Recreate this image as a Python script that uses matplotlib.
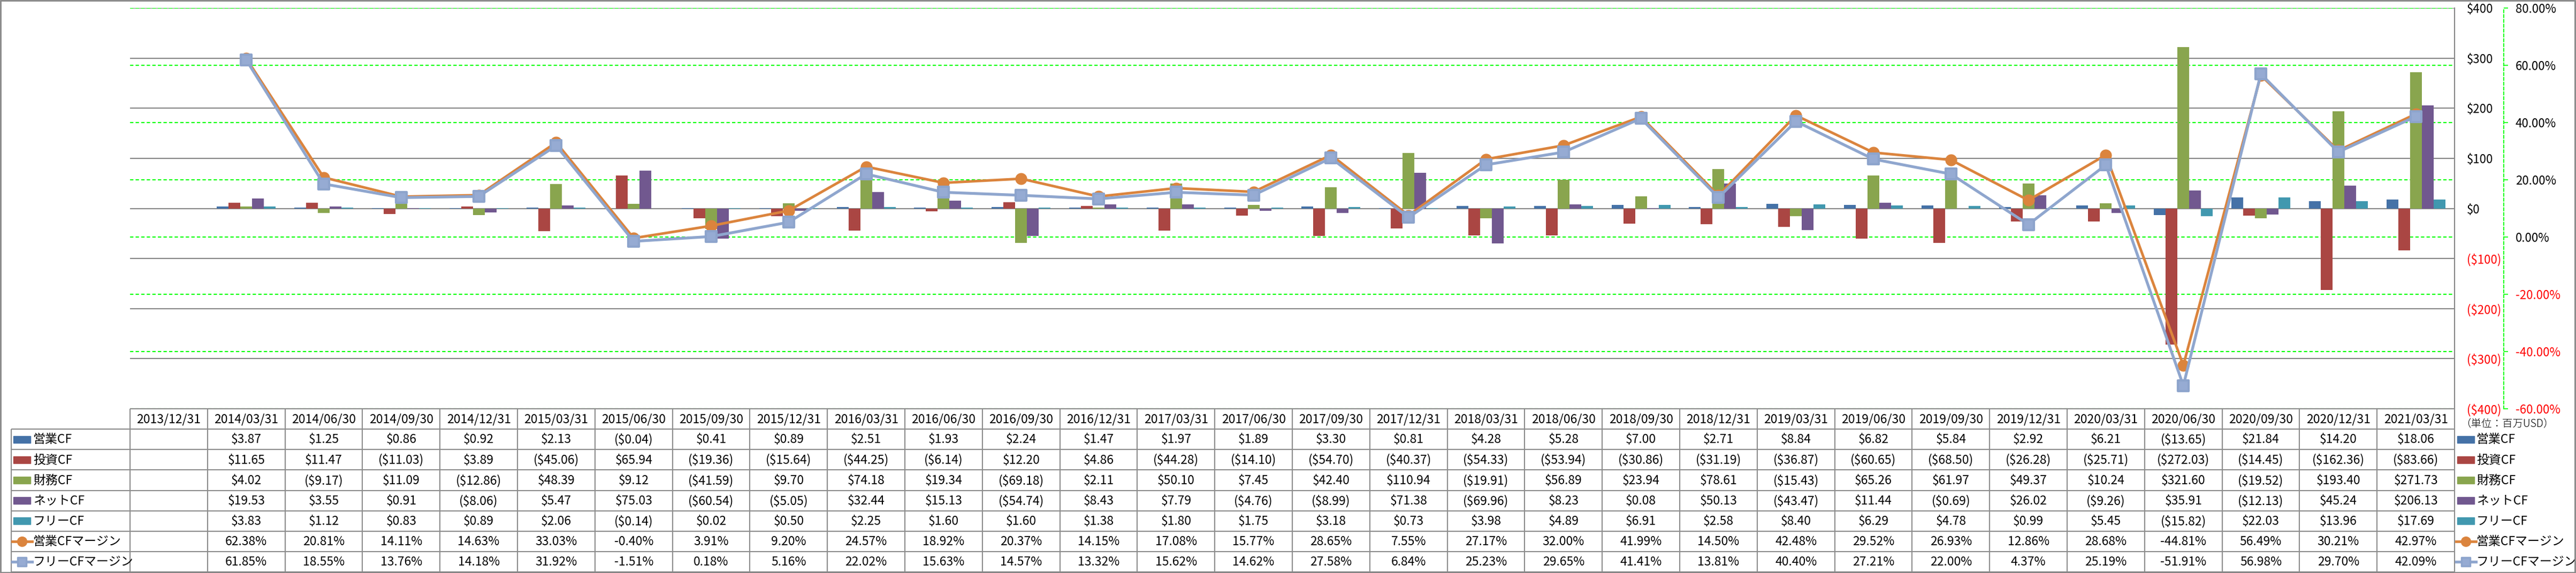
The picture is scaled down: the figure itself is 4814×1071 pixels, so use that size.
import numpy as np
import matplotlib.pyplot as plt
import matplotlib.transforms as mtransforms
from matplotlib.patches import Rectangle
from matplotlib.markers import MarkerStyle

plt.rcParams['font.family'] = ['Noto Sans CJK JP', 'DejaVu Sans']

nan = np.nan

dates = ['2013/12/31', '2014/03/31', '2014/06/30', '2014/09/30', '2014/12/31',
         '2015/03/31', '2015/06/30', '2015/09/30', '2015/12/31', '2016/03/31',
         '2016/06/30', '2016/09/30', '2016/12/31', '2017/03/31', '2017/06/30',
         '2017/09/30', '2017/12/31', '2018/03/31', '2018/06/30', '2018/09/30',
         '2018/12/31', '2019/03/31', '2019/06/30', '2019/09/30', '2019/12/31',
         '2020/03/31', '2020/06/30', '2020/09/30', '2020/12/31', '2021/03/31']

# 単位: 百万USD
op_cf = [nan, 3.87, 1.25, 0.86, 0.92, 2.13, -0.04, 0.41, 0.89, 2.51,
         1.93, 2.24, 1.47, 1.97, 1.89, 3.30, 0.81, 4.28, 5.28, 7.00,
         2.71, 8.84, 6.82, 5.84, 2.92, 6.21, -13.65, 21.84, 14.20, 18.06]
inv_cf = [nan, 11.65, 11.47, -11.03, 3.89, -45.06, 65.94, -19.36, -15.64, -44.25,
          -6.14, 12.20, 4.86, -44.28, -14.10, -54.70, -40.37, -54.33, -53.94, -30.86,
          -31.19, -36.87, -60.65, -68.50, -26.28, -25.71, -272.03, -14.45, -162.36, -83.66]
fin_cf = [nan, 4.02, -9.17, 11.09, -12.86, 48.39, 9.12, -41.59, 9.70, 74.18,
          19.34, -69.18, 2.11, 50.10, 7.45, 42.40, 110.94, -19.91, 56.89, 23.94,
          78.61, -15.43, 65.26, 61.97, 49.37, 10.24, 321.60, -19.52, 193.40, 271.73]
net_cf = [nan, 19.53, 3.55, 0.91, -8.06, 5.47, 75.03, -60.54, -5.05, 32.44,
          15.13, -54.74, 8.43, 7.79, -4.76, -8.99, 71.38, -69.96, 8.23, 0.08,
          50.13, -43.47, 11.44, -0.69, 26.02, -9.26, 35.91, -12.13, 45.24, 206.13]
free_cf = [nan, 3.83, 1.12, 0.83, 0.89, 2.06, -0.14, 0.02, 0.50, 2.25,
           1.60, 1.60, 1.38, 1.80, 1.75, 3.18, 0.73, 3.98, 4.89, 6.91,
           2.58, 8.40, 6.29, 4.78, 0.99, 5.45, -15.82, 22.03, 13.96, 17.69]
# マージン (%)
op_margin = [nan, 62.38, 20.81, 14.11, 14.63, 33.03, -0.40, 3.91, 9.20, 24.57,
             18.92, 20.37, 14.15, 17.08, 15.77, 28.65, 7.55, 27.17, 32.00, 41.99,
             14.50, 42.48, 29.52, 26.93, 12.86, 28.68, -44.81, 56.49, 30.21, 42.97]
free_margin = [nan, 61.85, 18.55, 13.76, 14.18, 31.92, -1.51, 0.18, 5.16, 22.02,
               15.63, 14.57, 13.32, 15.62, 14.62, 27.58, 6.84, 25.23, 29.65, 41.41,
               13.81, 40.40, 27.21, 22.00, 4.37, 25.19, -51.91, 56.98, 29.70, 42.09]

bar_names = ['営業CF', '投資CF', '財務CF', 'ネットCF', 'フリーCF']
bar_colors = ['#4572A7', '#AA4643', '#89A54E', '#71588F', '#4198AF']
line_names = ['営業CFマージン', 'フリーCFマージン']
usd_ticks = list(range(-400, 401, 100))
pct_ticks = list(range(-60, 81, 20))

W, H = 4814, 1071
fig = plt.figure(figsize=(W / 100, H / 100), dpi=100)

PL, PR, PT, PB = 243, 4587, 15, 764
ax = fig.add_axes([PL / W, 1 - PB / H, (PR - PL) / W, (PB - PT) / H])
ax2 = ax.twinx()

n = len(dates)
x = np.arange(n)
bar_series = [op_cf, inv_cf, fin_cf, net_cf, free_cf]
w = 1 / 6.58
for k, (vals, c) in enumerate(zip(bar_series, bar_colors)):
    v = np.array(vals)
    ax.bar(x[1:] + (k - 2) * w, v[1:], width=w, color=c, zorder=2)

ax2.plot(x, op_margin, color='#DB843D', lw=3.5, marker='o', ms=15,
         mfc='#DB843D', mec='#DB843D', zorder=3)
sq = MarkerStyle('s', joinstyle='round')
ax2.plot(x, free_margin, color='#8FA6CE', lw=3.8, marker=sq, ms=14,
         mfc='#96ABD3', mec='#8DA4CC', mew=3, zorder=4)

ax.set_xlim(-0.5, n - 0.5)
ax.set_ylim(-400, 400)
ax2.set_ylim(-60, 80)
ax.set_xticks([])

# 主軸 ($)
ax.yaxis.tick_right()
ax.set_yticks(usd_ticks)
ax.set_yticklabels([f'${v}' if v >= 0 else f'(${-v})' for v in usd_ticks])
ax.tick_params(axis='y', length=0, pad=16.5, labelsize=16)
ax.grid(axis='y', color='#868686', lw=1.5)
ax.set_axisbelow(True)
for s in ['top', 'left', 'bottom']:
    ax.spines[s].set_visible(False)
ax.spines['right'].set_color('#868686')
ax.spines['right'].set_linewidth(1.5)

# 第2軸 (%)
for s in ['top', 'left', 'bottom']:
    ax2.spines[s].set_visible(False)
ax2.spines['right'].set_position(('outward', 66))
ax2.spines['right'].set_color('#00FF00')
ax2.spines['right'].set_linestyle((0, (3, 2)))
ax2.spines['right'].set_linewidth(1.3)
ax2.set_yticks(pct_ticks)
ax2.set_yticklabels([f'{v:.2f}%' for v in pct_ticks])
ax2.tick_params(axis='y', color='#00FF00', labelcolor='black', length=6,
                width=1.2, pad=10, labelsize=16)

# マイナスは赤
for a, ticks in [(ax, usd_ticks), (ax2, pct_ticks)]:
    for lbl, v in zip(a.get_yticklabels(), ticks):
        lbl.set_color('red' if v < 0 else 'black')

# 第2軸の目盛線 (棒の下に描く)
trans = mtransforms.blended_transform_factory(ax.transAxes, ax2.transData)
for v in pct_ticks:
    ax.plot([0, 1], [v, v], transform=trans, color='#00FF00', lw=1.5,
            ls=(0, (3, 2)), zorder=1)

# データテーブル
TL, TB = 21, 1069
colw = (PR - PL) / n
xleft = -0.5 - (PL - TL) / colw
tab = fig.add_axes([TL / W, 1 - TB / H, (PR - TL) / W, (TB - PB) / H])
tab.set_xlim(xleft, n - 0.5)
tab.set_ylim(8, 0)
tab.axis('off')

gc = '#8C8C8C'
tab.hlines(0, -0.5, n - 0.5, color=gc, lw=1.5, clip_on=False)
for r in range(1, 9):
    tab.hlines(r, xleft, n - 0.5, color=gc, lw=1.5, clip_on=False)
for j in range(n + 1):
    tab.vlines(j - 0.5, 0, 8, color=gc, lw=1.5, clip_on=False)
tab.vlines(xleft, 1, 8, color=gc, lw=1.5, clip_on=False)


def fmt_usd(v):
    if np.isnan(v):
        return ''
    return f'${v:.2f}' if v >= 0 else f'(${-v:.2f})'


def fmt_pct(v):
    if np.isnan(v):
        return ''
    return f'{v:.2f}%'


for j, d in enumerate(dates):
    tab.text(j, 0.52, d, ha='center', va='center', fontsize=16.5)
rows = [(s, fmt_usd) for s in bar_series] + [(op_margin, fmt_pct), (free_margin, fmt_pct)]
for r, (vals, f) in enumerate(rows):
    for j in range(n):
        tab.text(j, r + 1.52, f(vals[j]), ha='center', va='center', fontsize=16.5)


def legend_keys(x0, text_x):
    # 凡例マーク: 棒は四角, 折れ線はマーカー付き線
    kw = 32 / colw
    kh = 13 / 38.1
    for r, (name, c) in enumerate(zip(bar_names, bar_colors)):
        tab.add_patch(Rectangle((x0, r + 1.5 - kh / 2), kw, kh, color=c, clip_on=False))
        tab.text(text_x, r + 1.52, name, ha='left', va='center', fontsize=16.5, clip_on=False)
    lx = [x0 - 2 / colw, x0 + 35 / colw]
    mx = x0 + 16 / colw
    tab.plot(lx, [6.5, 6.5], color='#DB843D', lw=3.5, clip_on=False)
    tab.plot([mx], [6.5], marker='o', ms=13, color='#DB843D', clip_on=False)
    tab.plot(lx, [7.5, 7.5], color='#8FA6CE', lw=3.8, clip_on=False)
    tab.plot([mx], [7.5], marker=sq, ms=12, mfc='#96ABD3', mec='#8DA4CC', mew=2.5,
             clip_on=False)
    for r, name in enumerate(line_names):
        tab.text(text_x, r + 6.52, name, ha='left', va='center', fontsize=16.5, clip_on=False)


legend_keys(xleft + 4 / colw, xleft + 41 / colw)
legend_keys(n - 0.5 + 5 / colw, n - 0.5 + 41 / colw)

fig.text(4598 / W, 1 - 793 / H, '（単位：百万USD）', ha='left', va='center',
         fontsize=14, fontweight='light')

fig.patches.append(Rectangle((0.0002, 0.0009), 0.9994, 0.9982, transform=fig.transFigure,
                             fill=False, ec='#868686', lw=2))

fig.savefig('out.png', dpi=100)
